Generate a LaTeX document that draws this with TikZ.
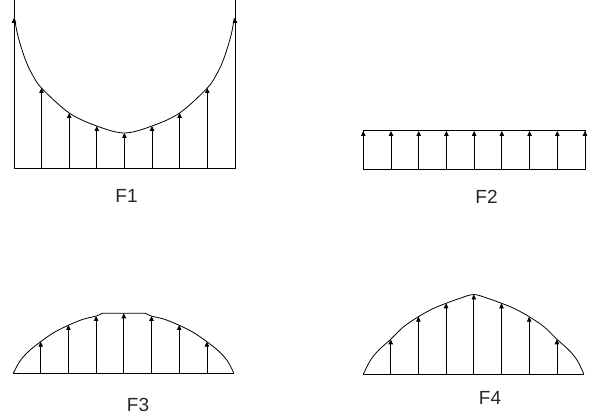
\documentclass[tikz,border=0pt]{standalone}
\usepackage{fontspec}
\setmainfont{Liberation Sans}
\usetikzlibrary{arrows.meta}
\begin{document}
\begin{tikzpicture}[x=1pt,y=-1pt,line width=0.8pt,
  force/.style={-{Triangle[width=4.5pt,length=5pt]}},
  curve/.style={line width=0.8pt},
  lbl/.style={font=\fontsize{19}{19}\selectfont,inner sep=0pt,text=black!85}]
\useasboundingbox (0,0) rectangle (590,419);
% ---------- F1 ----------
\draw (14,0) -- (14,168) -- (235,168) -- (235,0);
\draw[curve] plot[smooth,tension=0.55] coordinates {(14.5,18) (17,32) (20.5,45) (25.5,60) (31.5,73) (41.5,88) (69.2,113) (96.8,126) (124.4,133) (152,126) (179.6,113) (207.3,88) (217.3,73) (223.3,60) (228.3,45) (231.8,32) (234.3,18)};
\draw[force] (14,168) -- (14,18);
\draw[force] (235,168) -- (235,18);
\foreach \x/\y in {41.5/88, 69.2/113, 96.8/126, 124.4/133, 152/126, 179.6/113, 207.3/88}
  \draw[force] (\x,168) -- (\x,\y);
\node[lbl] (f1) at (126.5,196) {F1};
% ---------- F2 ----------
\draw (363.3,130) rectangle (585,169);
\foreach \i in {0,...,8}
  \draw[force] ({363.3+27.71*\i},169) -- ({363.3+27.71*\i},131);
\node[lbl] (f2) at (486.5,197) {F2};
% ---------- F3 ----------
\draw (13.3,373.3) -- (233.9,373.3);
\draw[curve] plot[smooth,tension=0.55] coordinates {(13.3,373.3) (20,361) (29,351) (40.7,341.7) (54,332.5) (69,325) (83,319.3) (96.3,316) (102,313.3)}
  -- (145.5,313.3)
  plot[smooth,tension=0.55] coordinates {(145.5,313.3) (151.2,316) (164.5,319.3) (178.5,325) (193.5,332.5) (206.8,341.7) (218.5,351) (227.5,361) (233.9,373.3)};
\foreach \x/\y in {40.7/341.7, 68.4/325, 96.1/316, 123.8/313.3, 151.5/316, 179.2/325, 206.9/341.7}
  \draw[force] (\x,373.3) -- (\x,\y);
\node[lbl] (f3) at (138,405) {F3};
% ---------- F4 ----------
\draw (363.3,374.3) -- (583.9,374.3);
\draw[curve] plot[smooth,tension=0.55] coordinates {(363.3,374.3) (370,361) (378.3,350.5) (390.7,339.3) (403.3,327) (418.4,316.7) (433.3,308.5) (446.1,303.3) (460,298.3) (473.8,294.5) (487.6,298.3) (501.5,303.3) (514.3,308.5) (529.2,316.7) (544.3,327) (556.9,339.3) (569.3,350.5) (577.6,361) (583.9,374.3)};
\foreach \x/\y in {390.7/339.3, 418.4/316.7, 446.1/303.3, 473.8/294.5, 501.5/303.3, 529.2/316.7, 556.9/339.3}
  \draw[force] (\x,374.3) -- (\x,\y);
\node[lbl] (f4) at (490,398) {F4};
\end{tikzpicture}
\end{document}
